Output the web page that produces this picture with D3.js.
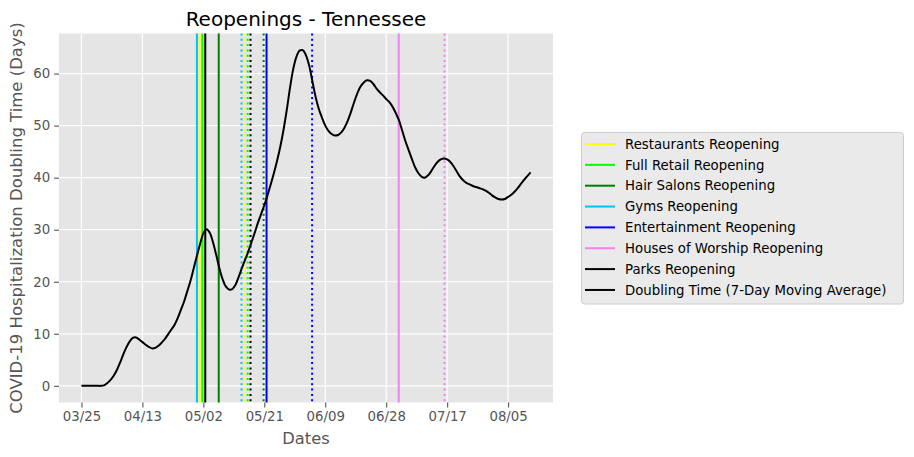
<!DOCTYPE html>
<html>
<head>
<meta charset="utf-8">
<script src="https://cdn.jsdelivr.net/npm/d3@7"></script>
<style>
  body { margin: 0; background: #fff; }
  svg { font-family: "DejaVu Sans", sans-serif; }
</style>
</head>
<body>
<svg id="chart" width="914" height="457"></svg>
<script>
// doubling time, one value per day starting 03/25
var startDate = "2020-03-25";
var doublingTime = [
  0, 0, 0, 0, 0, 0, 0, 0.1, 0.5, 1.1,
  1.9, 3.0, 4.4, 6.0, 7.4, 8.5, 9.2, 9.3, 8.9, 8.4,
  7.9, 7.5, 7.2, 7.3, 7.7, 8.3, 9.0, 9.9, 10.8, 11.7,
  13.0, 14.6, 16.2, 18.2, 20.2, 22.6, 25.0, 27.3, 29.3, 30.1,
  29.4, 27.6, 25.2, 22.6, 20.5, 19.1, 18.5, 18.6, 19.4, 20.9,
  22.6, 24.2, 25.8, 27.6, 29.4, 31.3, 33.0, 34.7, 36.6, 38.7,
  40.9, 43.3, 46.0, 49.2, 53.0, 57.2, 60.8, 63.2, 64.4, 64.5,
  63.5, 61.5, 58.5, 55.5, 53.2, 51.5, 50.0, 49.0, 48.4, 48.1,
  48.2, 48.7, 49.6, 50.9, 52.6, 54.5, 56.2, 57.5, 58.3, 58.7,
  58.6, 58.0, 57.1, 56.4, 55.8, 55.1, 54.5, 53.6, 52.4, 51.0,
  49.0, 47.0, 45.3, 43.6, 42.0, 40.9, 40.2, 40.0, 40.4, 41.2,
  42.2, 43.0, 43.5, 43.7, 43.5, 43.0, 42.2, 41.2, 40.2, 39.5,
  39.0, 38.7, 38.4, 38.2, 38.0, 37.8, 37.5, 37.1, 36.6, 36.2,
  35.9, 35.8, 35.9, 36.3, 36.7, 37.3, 38.0, 38.8, 39.6, 40.3,
  41.0
];

// reopening categories (legend order)
var categories = ["Restaurants", "Full Retail", "Hair Salons", "Gyms", "Entertainment", "Houses of Worship", "Parks"];
var catColors = ["#ffff00", "#00ff00", "#008000", "#00bfff", "#0000ff", "#ee82ee", "#000000"];
// days after 03/25 of each reopening line, as drawn
var firstReopenDay = [36.8, 37.7, 42.8, 36.0, 57.7, 98.9, 38.6];
var secondReopenDay = [50.7, 51.8, 56.8, 49.9, 71.9, 113.2, 52.7];

var xTickLabels = ["03/25", "04/13", "05/02", "05/21", "06/09", "06/28", "07/17", "08/05"];
var yTicks = [0, 10, 20, 30, 40, 50, 60];

var svg = d3.select("#chart");
var pLeft = 59, pRight = 553, pTop = 33.5, pBottom = 402.5;

var t0 = d3.timeParse("%Y-%m-%d")(startDate);
function dayToDate(d) { return new Date(t0.getTime() + d * 864e5); }
var parseTick = d3.timeParse("%Y/%m/%d");

var x = d3.scaleTime()
  .domain([dayToDate(-7), dayToDate(147)])
  .range([pLeft, pRight]);
var y = d3.scaleLinear()
  .domain([-3.2, 67.7])
  .range([pBottom, pTop]);

// background
svg.append("rect")
  .attr("x", pLeft).attr("y", pTop)
  .attr("width", pRight - pLeft).attr("height", pBottom - pTop)
  .attr("fill", "#e5e5e5");

var xTickDates = xTickLabels.map(function(s) { return parseTick("2020/" + s); });

// grid
svg.append("g").selectAll("line").data(xTickDates).enter().append("line")
  .attr("x1", function(d) { return x(d); }).attr("x2", function(d) { return x(d); })
  .attr("y1", pTop).attr("y2", pBottom)
  .attr("stroke", "#fff").attr("stroke-width", 1.2);
svg.append("g").selectAll("line").data(yTicks).enter().append("line")
  .attr("y1", function(d) { return y(d); }).attr("y2", function(d) { return y(d); })
  .attr("x1", pLeft).attr("x2", pRight)
  .attr("stroke", "#fff").attr("stroke-width", 1.2);

// axes
var xAxis = d3.axisBottom(x)
  .tickValues(xTickDates)
  .tickFormat(d3.timeFormat("%m/%d"))
  .tickSize(4.9).tickPadding(4);
var gx = svg.append("g").attr("transform", "translate(0," + pBottom + ")").call(xAxis);
var yAxis = d3.axisLeft(y).tickValues(yTicks).tickSize(4.9).tickPadding(4);
var gy = svg.append("g").attr("transform", "translate(" + pLeft + ",0)").call(yAxis);
[gx, gy].forEach(function(g) {
  g.select(".domain").remove();
  g.selectAll(".tick line").attr("stroke", "#555555").attr("stroke-width", 1.1);
  g.selectAll(".tick text").attr("fill", "#555555")
    .style("font-size", "13.3px").style("font-family", "DejaVu Sans");
});

// reopening lines
var vlines = [];
categories.forEach(function(c, i) {
  vlines.push({ day: firstReopenDay[i], color: catColors[i], dotted: false });
  vlines.push({ day: secondReopenDay[i], color: catColors[i], dotted: true });
});
var plot = svg.append("g");
plot.selectAll("line.reopen").data(vlines).enter().append("line")
  .attr("class", "reopen")
  .attr("x1", function(d) { return x(dayToDate(d.day)); })
  .attr("x2", function(d) { return x(dayToDate(d.day)); })
  .attr("y1", pTop).attr("y2", pBottom)
  .attr("stroke", function(d) { return d.color; })
  .attr("stroke-width", 2)
  .attr("stroke-dasharray", function(d) { return d.dotted ? "2,3.3" : null; });

// doubling time curve
var line = d3.line()
  .x(function(d, i) { return x(dayToDate(i)); })
  .y(function(d) { return y(d); })
  .curve(d3.curveCatmullRom);
plot.append("path")
  .datum(doublingTime)
  .attr("d", line)
  .attr("fill", "none")
  .attr("stroke", "#000")
  .attr("stroke-width", 2)
  .attr("stroke-linejoin", "round");

// titles
svg.append("text")
  .attr("x", (pLeft + pRight) / 2).attr("y", 26)
  .attr("text-anchor", "middle")
  .style("font-size", "20px").attr("fill", "#000")
  .text("Reopenings - Tennessee");
svg.append("text")
  .attr("x", (pLeft + pRight) / 2).attr("y", 444)
  .attr("text-anchor", "middle")
  .style("font-size", "16.3px").attr("fill", "#555555")
  .text("Dates");
svg.append("text")
  .attr("transform", "translate(22," + ((pTop + pBottom) / 2) + ") rotate(-90)")
  .attr("text-anchor", "middle")
  .style("font-size", "16.5px").attr("fill", "#555555")
  .text("COVID-19 Hospitalization Doubling Time (Days)");

// legend
var legendItems = categories.map(function(c, i) {
  return { label: c + " Reopening", color: catColors[i] };
});
legendItems.push({ label: "Doubling Time (7-Day Moving Average)", color: "#000" });

var lg = svg.append("g");
lg.append("rect")
  .attr("x", 581.5).attr("y", 132.5)
  .attr("width", 322).attr("height", 171.5)
  .attr("rx", 3)
  .attr("fill", "#eaeaea").attr("stroke", "#cccccc");
var rows = lg.selectAll("g.row").data(legendItems).enter().append("g")
  .attr("class", "row")
  .attr("transform", function(d, i) { return "translate(0," + (144 + i * 20.85) + ")"; });
rows.append("line")
  .attr("x1", 585).attr("x2", 615)
  .attr("stroke", function(d) { return d.color; })
  .attr("stroke-width", 2);
rows.append("text")
  .attr("x", 625).attr("dy", "0.35em")
  .style("font-size", "13.3px").attr("fill", "#000")
  .text(function(d) { return d.label; });
</script>
</body>
</html>
